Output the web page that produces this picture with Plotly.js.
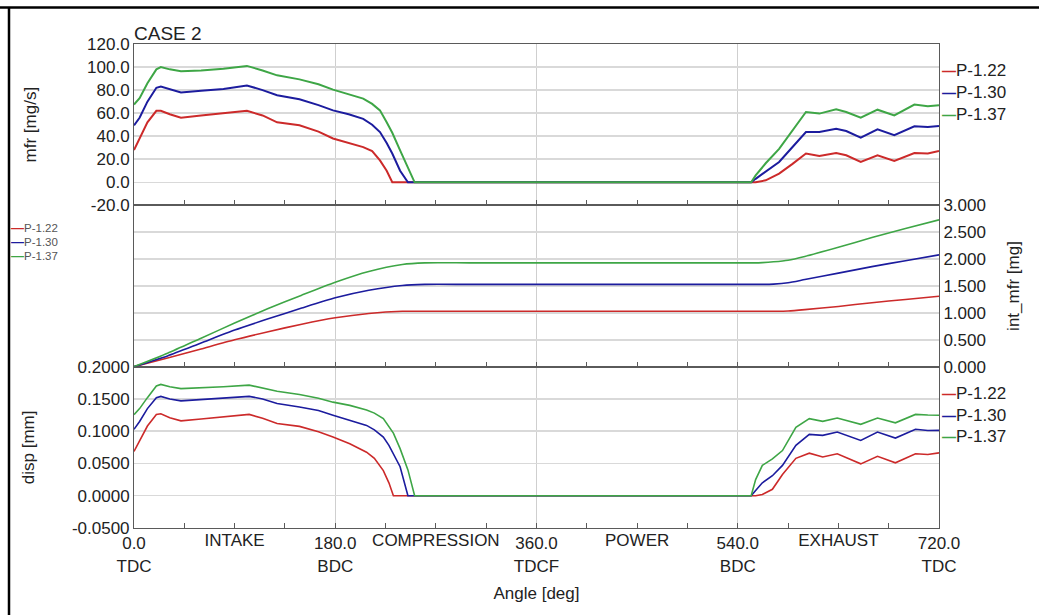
<!DOCTYPE html>
<html>
<head>
<meta charset="utf-8">
<script src="https://cdn.plot.ly/plotly-3.0.1.min.js"></script>
<style>html,body{margin:0;padding:0;background:#fff;}#chart{width:1039px;height:615px;}</style>
</head>
<body>
<div id="chart"></div>
<script>
// ---------- DATA ----------
const seriesNames = ['P-1.22', 'P-1.30', 'P-1.37'];

const xTickVals = [0, 180, 360, 540, 720];
const xTickText = ['0.0<br>TDC', '180.0<br>BDC', '360.0<br>TDCF', '540.0<br>BDC', '720.0<br>TDC'];
const phaseVals = [90, 270, 450, 630];
const phaseText = ['INTAKE', 'COMPRESSION', 'POWER', 'EXHAUST'];

const mfrTickVals = [-20, 0, 20, 40, 60, 80, 100, 120];
const mfrTickText = ['-20.0', '0.0', '20.0', '40.0', '60.0', '80.0', '100.0', '120.0'];
const intTickVals = [0, 0.5, 1, 1.5, 2, 2.5, 3];
const intTickText = ['0.000', '0.500', '1.000', '1.500', '2.000', '2.500', '3.000'];
const dispTickVals = [-0.05, 0, 0.05, 0.1, 0.15, 0.2];
const dispTickText = ['-0.0500', '0.0000', '0.0500', '0.1000', '0.1500', '0.2000'];

// top panel: mfr [mg/s]
const mfrAngle = [0,5,12,20,24,32,42,60,80,101,115,128,148,165,178,192,205,213,220,226,231,238,245,251,300,400,500,552,556,565,577,589,601,613,628,637,650,665,680,698,710,720];
const mfrP122 = [28,38,52,62,62,59,56,58,60,62,58,52,49.5,44,38,34,30.5,27,19,10,0,0,0,0,0,0,0,0,0,1.7,7.5,16,25,22.8,25.4,23.4,17.6,23.4,18.5,25.4,25,27.2];
const mfrP130 = [49.4,56,70,82,83,80.5,78,79.5,81,84,80,75.5,72,67,62.4,59,55,50,43.6,34,25,10,0,0,0,0,0,0,3,9,17.6,30.6,43.6,43.6,46.5,44.5,38.7,46,40.8,48.6,48,48.9];
const mfrP137 = [67.4,73,86,98,100,98,96.3,97,98.5,101,97,92.8,89.3,85,80.4,76.5,72.6,68,62.4,52,43,27.7,12,0,0,0,0,0,6,16.5,29,45,61,59.6,63.3,61,56,63,58,67.4,66,66.8];

// middle panel: int_mfr [mg]
const intAngle = [0,30,60,90,120,150,180,210,240,260,300,400,500,555,562,572,585,600,630,660,690,720];
const intP122 = [0,0.16,0.33,0.50,0.65,0.79,0.91,0.99,1.03,1.03,1.03,1.03,1.03,1.03,1.03,1.03,1.035,1.06,1.12,1.19,1.25,1.31];
const intP130 = [0,0.20,0.44,0.68,0.89,1.09,1.28,1.42,1.51,1.53,1.53,1.53,1.53,1.53,1.53,1.535,1.56,1.62,1.74,1.86,1.97,2.08];
const intP137 = [0,0.25,0.53,0.81,1.08,1.33,1.57,1.77,1.90,1.93,1.93,1.93,1.93,1.93,1.935,1.95,1.98,2.05,2.22,2.40,2.57,2.73];

// bottom panel: disp [mm]
const dispAngle = [0,5,12,20,24,32,42,60,80,103,115,128,148,165,178,193,208,215,223,228,232,238,245,251,300,330,400,480,520,552,556,562,571,580,592,604,616,629,650,665,681,699,710,720];
const dispP122 = [0.0686,0.085,0.108,0.126,0.127,0.121,0.116,0.119,0.122,0.126,0.120,0.112,0.1075,0.099,0.091,0.0806,0.0675,0.058,0.039,0.020,0,0,0,0,0,0,0,0,0,0,0,0.002,0.010,0.033,0.058,0.066,0.060,0.065,0.0494,0.061,0.051,0.065,0.064,0.0665];
const dispP130 = [0.103,0.115,0.135,0.152,0.154,0.150,0.147,0.149,0.151,0.154,0.150,0.143,0.1376,0.132,0.1247,0.117,0.109,0.102,0.091,0.078,0.065,0.045,0,0,0,0,0,0,0,0,0.008,0.020,0.031,0.047,0.078,0.095,0.0935,0.0987,0.0857,0.0987,0.0893,0.1029,0.101,0.1013];
const dispP137 = [0.1257,0.135,0.152,0.170,0.1725,0.169,0.166,0.167,0.169,0.1714,0.167,0.162,0.157,0.151,0.145,0.140,0.133,0.128,0.1195,0.108,0.097,0.073,0.040,0,0,-0.0005,-0.0005,-0.0005,0,0,0.025,0.047,0.057,0.070,0.106,0.1195,0.1153,0.1205,0.1106,0.1205,0.113,0.126,0.125,0.1247];

// ---------- STYLE ----------
const colors = ['#cc2a2a', '#1c1c9e', '#3ea646'];
const FONT = 'Liberation Sans, Arial, sans-serif';
const L = 134, R = 939, T = 44, B = 528, W = 1039, H = 615;
const px2x = p => (p - L) / (R - L);
const py2y = p => (B - p) / (B - T);

const traces = [];
function addPanel(angle, arrs, xa, ya, width, shape) {
  arrs.forEach((arr, i) => {
    traces.push({
      x: angle, y: arr, xaxis: xa, yaxis: ya, type: 'scatter', mode: 'lines',
      name: seriesNames[i], showlegend: false, hoverinfo: 'skip',
      line: shape === 'spline' ? {color: colors[i], width: width, shape: 'spline', smoothing: 0.6}
                               : {color: colors[i], width: width, shape: 'linear'}
    });
  });
}
addPanel(mfrAngle, [mfrP122, mfrP130, mfrP137], 'x3', 'y3', 2, 'linear');
addPanel(intAngle, [intP122, intP130, intP137], 'x2', 'y2', 1.6, 'spline');
addPanel(dispAngle, [dispP122, dispP130, dispP137], 'x', 'y', 1.6, 'linear');

const gridC = '#d9d9d9', lineC = '#5a5a5a';
const tickFont = {family: FONT, size: 17, color: '#222'};

function xax(anchor, labels) {
  return {
    domain: [0, 1], range: [0, 720], anchor: anchor,
    tickmode: 'array', tickvals: xTickVals, ticktext: xTickText,
    showticklabels: labels, tickfont: tickFont,
    ticks: 'inside', ticklen: 5, tickcolor: lineC,
    minor: {tickmode: 'linear', tick0: 0, dtick: 45, ticks: 'inside', ticklen: 5, tickcolor: lineC, showgrid: false},
    showgrid: true, gridcolor: '#cfcfcf', gridwidth: 1,
    showline: true, linecolor: lineC, linewidth: 1, mirror: true,
    zeroline: false, fixedrange: true
  };
}
function yax(domain, range, vals, text, side, anchor, title, standoff) {
  return {
    domain: domain, range: range, tickmode: 'array', tickvals: vals, ticktext: text, side: side, anchor: anchor,
    tickfont: tickFont, ticks: '', showgrid: true, gridcolor: gridC, gridwidth: 1.5,
    showline: true, linecolor: lineC, linewidth: 1, mirror: true, zeroline: false,
    title: {text: title, font: {family: FONT, size: 17, color: '#222'}, standoff: standoff},
    fixedrange: true
  };
}

const xaxis = xax('y', true);
xaxis.title = {text: 'Angle [deg]', font: {family: FONT, size: 17, color: '#222'}, standoff: 12};

function legendAnn(ypx, xpx, i, size, textColor, dashSize) {
  return {
    xref: 'paper', yref: 'paper', x: px2x(xpx), y: py2y(ypx), xanchor: 'left', yanchor: 'middle',
    showarrow: false, align: 'left',
    text: '<span style="color:' + colors[i] + ';font-size:' + dashSize + 'px;font-weight:bold">—</span>' + seriesNames[i],
    font: {family: FONT, size: size, color: textColor}
  };
}
const annotations = [];
[70.5, 92.5, 114.5].forEach((y, i) => annotations.push(legendAnn(y, 940, i, 17, '#222', 14)));
[227, 241, 255].forEach((y, i) => annotations.push(legendAnn(y, 9, i, 11.5, '#555', 13)));
[393.5, 415, 436.5].forEach((y, i) => annotations.push(legendAnn(y, 940, i, 17, '#222', 14)));

const layout = {
  width: W, height: H,
  margin: {l: L, r: W - R, t: T, b: H - B},
  paper_bgcolor: '#fff', plot_bgcolor: '#fff',
  font: {family: FONT, size: 17, color: '#222'},
  title: {text: 'CASE 2', xref: 'paper', x: 0, xanchor: 'left', yref: 'container', y: 1 - 33 / H, yanchor: 'middle',
          font: {family: FONT, size: 19, color: '#222'}},
  showlegend: false,
  xaxis: xaxis,
  xaxis2: xax('y2', false),
  xaxis3: xax('y3', false),
  xaxis4: {overlaying: 'x', anchor: 'y', range: [0, 720], tickmode: 'array', tickvals: phaseVals, ticktext: phaseText,
           tickfont: tickFont, showgrid: false, ticks: '', showline: false, zeroline: false, side: 'bottom', fixedrange: true},
  yaxis: yax([0, 1 / 3], [-0.05, 0.2], dispTickVals, dispTickText, 'left', 'x', 'disp [mm]', 32),
  yaxis2: yax([1 / 3, 2 / 3], [0, 3], intTickVals, intTickText, 'right', 'x2', 'int_mfr [mg]', 22),
  yaxis3: yax([2 / 3, 1], [-20, 120], mfrTickVals, mfrTickText, 'left', 'x3', 'mfr [mg/s]', 46),
  annotations: annotations,
  shapes: [
    {type: 'line', xref: 'paper', yref: 'paper', x0: px2x(-5), x1: px2x(1045), y0: py2y(7.5), y1: py2y(7.5), line: {color: '#000', width: 2.5}},
    {type: 'line', xref: 'paper', yref: 'paper', x0: px2x(9), x1: px2x(9), y0: py2y(7.5), y1: py2y(620), line: {color: '#000', width: 2.5}}
  ]
};

// a placeholder trace on xaxis4 so that the overlay axis with the phase labels is drawn
traces.push({x: [0], y: [null], xaxis: 'x4', yaxis: 'y', type: 'scatter', mode: 'lines', showlegend: false, hoverinfo: 'skip'});

Plotly.newPlot('chart', traces, layout, {displayModeBar: false, staticPlot: true});
</script>
</body>
</html>
